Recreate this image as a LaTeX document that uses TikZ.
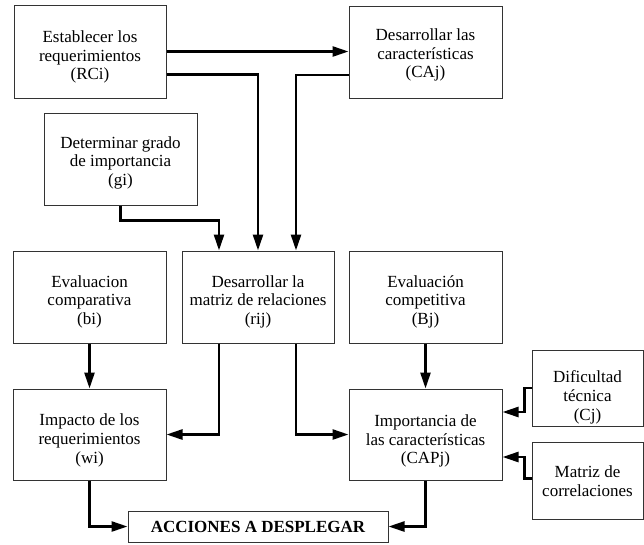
\documentclass[tikz,border=0pt]{standalone}
\usepackage{fontspec}
\setmainfont{Liberation Serif}
\usetikzlibrary{arrows.meta}
\begin{document}
\begin{tikzpicture}[x=1pt,y=-1pt,
  box/.style={draw=black!80, line width=1pt, fill=white, inner sep=0pt},
  txt/.style={align=center, inner sep=0pt, font=\fontsize{17}{18.7}\selectfont},
  arr/.style={line width=2.5pt, -{Triangle[length=16pt,width=10pt]}}]
\useasboundingbox (0,0) rectangle (644,544);
% top row
\node[box, minimum width=152pt, minimum height=93pt,
  label={[txt,yshift=-5.7pt]center:{Establecer los\\requerimientos\\(RCi)}}]
  (rc) at (90,51.5) {};
\node[box, minimum width=153pt, minimum height=92pt,
  label={[txt,yshift=-3pt]center:{Desarrollar las\\características\\(CAj)}}]
  (ca) at (425.5,52) {};
\node[box, minimum width=153pt, minimum height=92pt,
  label={[txt,yshift=-3.8pt]center:{Determinar grado\\de importancia\\(gi)}}]
  (gi) at (120.5,159) {};
% middle row
\node[box, minimum width=153pt, minimum height=92pt,
  label={[txt,yshift=-4.8pt]center:{Evaluacion\\comparativa\\(bi)}}]
  (bi) at (89.5,297) {};
\node[box, minimum width=152pt, minimum height=92pt,
  label={[txt,yshift=-4.8pt]center:{Desarrollar la\\matriz de relaciones\\(rij)}}]
  (rij) at (258,297) {};
\node[box, minimum width=153pt, minimum height=92pt,
  label={[txt,yshift=-4.8pt]center:{Evaluación\\competitiva\\(Bj)}}]
  (bj) at (425.5,297) {};
% lower row
\node[box, minimum width=153pt, minimum height=91pt,
  label={[txt,yshift=-6pt]center:{Impacto de los\\requerimientos\\(wi)}}]
  (wi) at (89.5,434.5) {};
\node[box, minimum width=153pt, minimum height=91pt,
  label={[txt,yshift=-6.5pt]center:{Importancia de\\las características\\(CAPj)}}]
  (capj) at (425.5,434.5) {};
\node[box, minimum width=111pt, minimum height=76pt,
  label={[txt,yshift=-9.5pt]center:{Dificultad\\técnica\\(Cj)}}]
  (cj) at (587.5,388) {};
\node[box, minimum width=111pt, minimum height=77pt,
  label={[txt,yshift=-1pt]center:{Matriz de\\correlaciones}}]
  (mc) at (587.5,480.5) {};
\node[box, minimum width=260pt, minimum height=31pt,
  label={[txt,font=\fontsize{17}{18.7}\selectfont\bfseries]center:{ACCIONES A DESPLEGAR}}]
  (acc) at (258,526.5) {};
% entry points on the relations matrix
\coordinate (r1) at ([xshift=-39pt]rij.north);
\coordinate (r3) at ([xshift=38pt]rij.north);
% connectors
\draw[arr] (rc.east) -- (rc.east -| ca.west);
\draw[arr] ([yshift=-23pt]rc.east) -| (rij.north);
\draw[arr] ([yshift=-23pt]ca.west) -| (r3);
\draw[arr] (gi.south) -- ++(0,15) -| (r1);
\draw[arr] (bi.south) -- (wi.north);
\draw[arr] ([xshift=-39pt]rij.south) |- (wi.east);
\draw[arr] ([xshift=38pt]rij.south) |- (capj.west);
\draw[arr] (bj.south) -- (capj.north);
\draw[arr] (cj.west) -- ++(-7,0) |- ([yshift=22.5pt]capj.east);
\draw[arr] ([yshift=2pt]mc.west) -- ++(-7,0) |- ([yshift=-22.5pt]capj.east);
\draw[arr] (wi.south) |- (acc.west);
\draw[arr] (capj.south) |- (acc.east);
\end{tikzpicture}
\end{document}
